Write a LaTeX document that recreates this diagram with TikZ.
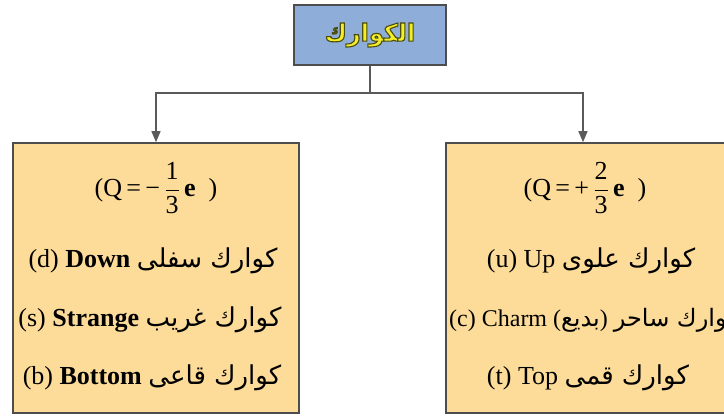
\documentclass[tikz,border=0pt]{standalone}
\usepackage{fontspec}
\usepackage{amsmath}
\setmainfont{Liberation Serif}
\newfontfamily\arabicfont[Script=Arabic]{DejaVu Sans}
\TeXXeTstate=1
\usetikzlibrary{arrows.meta}
\definecolor{boxfill}{HTML}{FDDC9A}
\definecolor{topfill}{HTML}{8EADD8}
\definecolor{edge}{HTML}{4D4D4D}
\definecolor{wire}{HTML}{5A5A5A}
\definecolor{titleyellow}{HTML}{F2EE2A}
\newcommand\artext[1]{{\arabicfont\beginR #1\endR}}
\newcommand\outlined[1]{\special{pdf:code 2 Tr 1.1 w 0.30 0.30 0.05 RG}#1\special{pdf:code 0 Tr}}
\tikzset{
  panel/.style={draw=edge, line width=1.6pt, fill=boxfill, minimum width=286pt, minimum height=270pt, inner sep=0pt},
  header/.style={draw=edge, line width=1.6pt, fill=topfill, minimum width=152pt, minimum height=60pt, inner sep=0pt},
  entry/.style={font=\fontsize{26}{30}\selectfont, inner sep=0pt, anchor=center},
  wireline/.style={draw=wire, line width=1.4pt},
  arrowline/.style={-{Triangle[length=11pt,width=9pt]}}
}
\begin{document}
\begin{tikzpicture}[x=1pt,y=-1pt]
\useasboundingbox (0,0) rectangle (724,419);
\clip (0,0) rectangle (724,419);
\node[header, text=titleyellow] (top) at (370,35) {\fontsize{24}{26}\selectfont\bfseries\outlined{\artext{الكوارك}}};
\node[panel] (left) at (156,278) {};
\node[panel] (right) at (589,278) {};
\coordinate (split) at (370,93);
\draw[wireline] (top.south) -- (split);
\draw[wireline, arrowline] (split) -| (left.north);
\draw[wireline, arrowline] (split) -| ([xshift=-6pt]right.north);
\node[entry] (lq) at (156,188) {(Q\,=\,−\,$\dfrac{\text{1}}{\text{3}}$\,\textbf{e}\enspace)};
\node[entry] (ld) at (153,261) {(d) \textbf{Down} \artext{كوارك سفلى}};
\node[entry] (ls) at (150,320) {(s) \textbf{Strange} \artext{كوارك غريب}};
\node[entry] (lb) at (152,378) {(b) \textbf{Bottom} \artext{كوارك قاعى}};
\node[entry] (rq) at (585,188) {(Q\,=\,+\,$\dfrac{\text{2}}{\text{3}}$\,\textbf{e}\enspace)};
\node[entry] (ru) at (591,261) {(u) Up \artext{كوارك علوى}};
\node[entry, anchor=west, font=\fontsize{24}{28}\selectfont] (rc) at (449,320) {(c) Charm (\artext{بديع}) \artext{كوارك ساحر}};
\node[entry] (rt) at (588,378) {(t) Top \artext{كوارك قمى}};
\end{tikzpicture}
\end{document}
